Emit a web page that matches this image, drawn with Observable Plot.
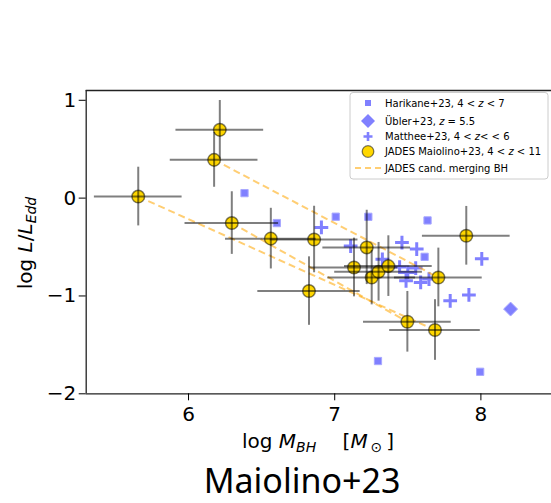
<!DOCTYPE html>
<html>
<head>
<meta charset="utf-8">
<script src="https://cdn.jsdelivr.net/npm/d3@7"></script>
<script src="https://cdn.jsdelivr.net/npm/@observablehq/plot@0.6"></script>
<style>
  html, body { margin: 0; padding: 0; background: white; overflow: hidden; }
  #chart { position: relative; width: 551px; height: 503px; }
</style>
</head>
<body>
<div id="chart"></div>
<script>
// ---------- data ----------
const xDomain = [5.30, 8.483];
const yDomain = [-2.0, 1.10];
const xTicks = [6, 7, 8];
const yTicks = [-2, -1, 0, 1];

// JADES Maiolino+23
const jadesX    = [5.656, 6.214, 6.175, 6.296, 6.563, 6.859, 6.824, 7.219, 7.132, 7.253, 7.300, 7.367, 7.709, 7.900, 7.497, 7.686];
const jadesY    = [0.016, 0.698, 0.391, -0.255, -0.414, -0.423, -0.950, -0.504, -0.709, -0.811, -0.753, -0.695, -0.811, -0.385, -1.264, -1.348];
const jadesXerr = [0.30, 0.30, 0.30, 0.32, 0.31, 0.30, 0.35, 0.30, 0.30, 0.30, 0.30, 0.30, 0.30, 0.30, 0.30, 0.31];
const jadesYerr = [0.30, 0.30, 0.28, 0.32, 0.31, 0.34, 0.35, 0.38, 0.30, 0.28, 0.30, 0.31, 0.30, 0.30, 0.31, 0.31];

// candidate merging BH pairs (indices into JADES arrays)
const mergeFrom = [2, 3, 0];
const mergeTo   = [12, 14, 15];

// Harikane+23
const harX = [6.383, 6.604, 7.007, 7.230, 7.635, 7.615, 7.296, 7.995];
const harY = [0.051, -0.255, -0.190, -0.191, -0.228, -0.600, -1.665, -1.775];

// Übler+23
const ublX = [8.203];
const ublY = [-1.134];

// Matthee+23
const matX = [6.909, 7.109, 7.460, 7.561, 7.326, 7.444, 7.500, 7.554, 7.488, 7.588, 7.645, 8.006, 7.918, 7.790];
const matY = [-0.300, -0.490, -0.454, -0.521, -0.625, -0.705, -0.760, -0.715, -0.845, -0.862, -0.827, -0.620, -0.990, -1.050];

// legend labels
const legendLabels = [
  ["Harikane+23, 4 < ", "z", " < 7"],
  ["Übler+23, ", "z", " = 5.5"],
  ["Matthee+23, 4 < ", "z", "< < 6"],
  ["JADES Maiolino+23, 4 < ", "z", " < 11"],
  ["JADES cand. merging BH", "", ""]
];
const titleText = "Maiolino+23";

// ---------- tables ----------
const jades = jadesX.map((x, i) => ({x, y: jadesY[i], xe: jadesXerr[i], ye: jadesYerr[i]}));
const har = harX.map((x, i) => ({x, y: harY[i]}));
const ubl = ublX.map((x, i) => ({x, y: ublY[i]}));
const mat = matX.map((x, i) => ({x, y: matY[i]}));
const merges = mergeFrom.map((a, i) => ({a, b: mergeTo[i]}));

const BLUE = "#8080ff";
const FONT = "DejaVu Sans, sans-serif";

const svg = Plot.plot({
  width: 551,
  height: 503,
  marginLeft: 85.7,
  marginRight: 0,
  marginTop: 90,
  marginBottom: 109.7,
  style: {fontFamily: FONT, background: "white", color: "black", overflow: "visible"},
  x: {domain: xDomain, nice: false},
  y: {domain: yDomain, nice: false},
  marks: [
    Plot.dot(har, {x: "x", y: "y", symbol: "square", r: 4.1, fill: BLUE, stroke: "#a8a8ff", strokeWidth: 1}),
    Plot.dot(ubl, {x: "x", y: "y", symbol: "diamond2", r: 6.3, fill: BLUE, stroke: "#a8a8ff", strokeWidth: 1}),
    Plot.dot(mat, {x: "x", y: "y", symbol: "plus", r: 4.5, stroke: BLUE, strokeWidth: 3}),
    Plot.link(merges, {
      x1: d => jadesX[d.a], y1: d => jadesY[d.a],
      x2: d => jadesX[d.b], y2: d => jadesY[d.b],
      stroke: "#FFA500", strokeOpacity: 0.55, strokeWidth: 2, strokeDasharray: "7,4"
    }),
    Plot.dot(jades, {x: "x", y: "y", r: 6.3, fill: "#FFD700", stroke: "black", strokeOpacity: 0.5, strokeWidth: 1.5}),
    Plot.ruleY(jades, {y: "y", x1: d => d.x - d.xe, x2: d => d.x + d.xe, stroke: "black", strokeOpacity: 0.5, strokeWidth: 2}),
    Plot.ruleX(jades, {x: "x", y1: d => d.y - d.ye, y2: d => d.y + d.ye, stroke: "black", strokeOpacity: 0.5, strokeWidth: 2}),
    Plot.ruleX([xDomain[0]], {stroke: "#222", strokeWidth: 1.3}),
    Plot.ruleY(yDomain, {stroke: "#222", strokeWidth: 1.3}),
    Plot.axisX({ticks: xTicks, tickSize: 7, tickPadding: 6, fontSize: 20, label: null, tickFormat: d => String(d)}),
    Plot.axisY({ticks: yTicks, tickSize: 7, tickPadding: 3, fontSize: 20, label: null,
                tickFormat: d => d < 0 ? "\u2212" + Math.abs(d) : String(d)})
  ]
});

document.getElementById("chart").appendChild(svg);

const s = d3.select(svg);

// axis labels
const xl = s.append("text")
  .attr("x", 318).attr("y", 448)
  .attr("text-anchor", "middle")
  .attr("font-family", FONT).attr("font-size", 20).attr("fill", "black");
xl.append("tspan").text("log ");
xl.append("tspan").attr("font-style", "italic").text("M");
xl.append("tspan").attr("font-style", "italic").attr("font-size", 14).attr("dy", 4).text("BH");
xl.append("tspan").attr("dy", -4).text("\u2003 [");
xl.append("tspan").attr("font-style", "italic").text("M");
xl.append("tspan").attr("font-size", 14).attr("dy", 4).text("\u2009\u2299");
xl.append("tspan").attr("dy", -4).text("\u2009]");

const yl = s.append("text")
  .attr("transform", "translate(32,243) rotate(-90)")
  .attr("text-anchor", "middle")
  .attr("font-family", FONT).attr("font-size", 20).attr("fill", "black");
yl.append("tspan").text("log ");
yl.append("tspan").attr("font-style", "italic").text("L");
yl.append("tspan").text("/");
yl.append("tspan").attr("font-style", "italic").text("L");
yl.append("tspan").attr("font-style", "italic").attr("font-size", 14).attr("dy", 4).text("Edd");

// title
s.append("text")
  .attr("x", 302).attr("y", 493)
  .attr("text-anchor", "middle")
  .attr("font-family", "Noto Sans, sans-serif").attr("font-size", 34).attr("fill", "black")
  .text(titleText);

// legend
const lg = s.append("g").attr("text-anchor", "start");
lg.append("rect").attr("x", 350).attr("y", 92.5).attr("width", 198).attr("height", 86.5)
  .attr("rx", 3).attr("fill", "white").attr("fill-opacity", 0.85)
  .attr("stroke", "#cccccc").attr("stroke-width", 1);
const rowsY = [103, 121, 136.5, 151.5, 168];
const mx = 368;
// markers
lg.append("rect").attr("x", mx - 3).attr("y", rowsY[0] - 3).attr("width", 6).attr("height", 6).attr("fill", BLUE);
lg.append("path").attr("d", `M${mx},${rowsY[1]-7}L${mx+7},${rowsY[1]}L${mx},${rowsY[1]+7}L${mx-7},${rowsY[1]}Z`).attr("fill", BLUE);
lg.append("path").attr("d", `M${mx-4.5},${rowsY[2]}H${mx+4.5}M${mx},${rowsY[2]-4.5}V${rowsY[2]+4.5}`).attr("stroke", BLUE).attr("stroke-width", 2.6);
lg.append("circle").attr("cx", mx).attr("cy", rowsY[3]).attr("r", 5.8).attr("fill", "#FFD700").attr("stroke", "black").attr("stroke-opacity", 0.5).attr("stroke-width", 1.3);
lg.append("line").attr("x1", mx - 13).attr("x2", mx + 13).attr("y1", rowsY[4]).attr("y2", rowsY[4])
  .attr("stroke", "#FFA500").attr("stroke-opacity", 0.55).attr("stroke-width", 2).attr("stroke-dasharray", "6,4");
legendLabels.forEach((parts, i) => {
  const t = lg.append("text").attr("x", 385).attr("y", rowsY[i]).attr("dy", "0.35em")
    .attr("text-anchor", "start")
    .attr("font-family", FONT).attr("font-size", 10).attr("fill", "black");
  t.append("tspan").text(parts[0]);
  if (parts[1]) t.append("tspan").attr("font-style", "italic").text(parts[1]);
  if (parts[2]) t.append("tspan").text(parts[2]);
});
</script>
</body>
</html>
